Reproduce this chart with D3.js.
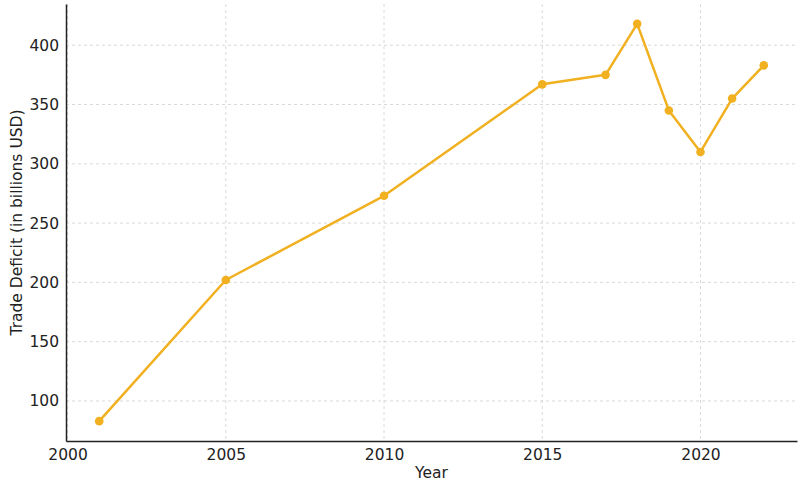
<!DOCTYPE html>
<html><head><meta charset="utf-8">
<script src="https://cdn.jsdelivr.net/npm/d3@7"></script>
<style>body{margin:0;background:#fff}svg{display:block}text{font-family:"DejaVu Sans",sans-serif}</style>
</head><body><svg id="c" width="806" height="491"></svg>
<script>
const years = [2001, 2005, 2010, 2015, 2017, 2018, 2019, 2020, 2021, 2022];
const deficit = [83, 202, 273, 367, 375, 418, 345, 310, 355, 383];
const xTicks = [2000, 2005, 2010, 2015, 2020];
const yTicks = [100, 150, 200, 250, 300, 350, 400];

const svg = d3.select("#c");
const L = 66, R = 797, T = 4, B = 441;
const x = d3.scaleLinear().domain([1999.95, 2023.05]).range([L, R]);
const y = d3.scaleLinear().domain([66.25, 434.75]).range([B, T]);
const color = "#f0b020";
const FS = 15.5;

const g = svg.append("g");
g.selectAll(".gx").data(xTicks).enter().append("line")
  .attr("x1", d => x(d)).attr("x2", d => x(d)).attr("y1", T).attr("y2", B)
  .attr("stroke", "#cfcfcf").attr("stroke-width", 0.8).attr("stroke-dasharray", "3,3");
g.selectAll(".gy").data(yTicks).enter().append("line")
  .attr("x1", L).attr("x2", R).attr("y1", d => y(d)).attr("y2", d => y(d))
  .attr("stroke", "#cfcfcf").attr("stroke-width", 0.8).attr("stroke-dasharray", "3,3");

const xa = svg.append("g").attr("transform", `translate(0,${B})`)
  .call(d3.axisBottom(x).tickValues(xTicks).tickFormat(d3.format("d")).tickSize(0).tickPadding(8));
const ya = svg.append("g").attr("transform", `translate(${L},0)`)
  .call(d3.axisLeft(y).tickValues(yTicks).tickSize(0).tickPadding(7));
[xa, ya].forEach(a => {
  a.select(".domain").attr("stroke", "#222").attr("stroke-width", 1.5);
  a.selectAll("text").attr("font-size", FS).attr("fill", "#222").style("font-family", "DejaVu Sans, sans-serif");
});

const pts = years.map((yr, i) => [yr, deficit[i]]);
svg.append("path").datum(pts)
  .attr("fill", "none").attr("stroke", color).attr("stroke-width", 2.5)
  .attr("stroke-linejoin", "round")
  .attr("d", d3.line().x(d => x(d[0])).y(d => y(d[1])));
svg.selectAll(".pt").data(pts).enter().append("circle")
  .attr("cx", d => x(d[0])).attr("cy", d => y(d[1])).attr("r", 4.3)
  .attr("fill", color);

svg.append("text").attr("x", (L + R) / 2).attr("y", 478).attr("text-anchor", "middle")
  .attr("font-size", FS).attr("fill", "#222").text("Year");
svg.append("text").attr("transform", `translate(22,${(T + B) / 2}) rotate(-90)`)
  .attr("text-anchor", "middle").attr("font-size", FS).attr("fill", "#222")
  .text("Trade Deficit (in billions USD)");
</script></body></html>
